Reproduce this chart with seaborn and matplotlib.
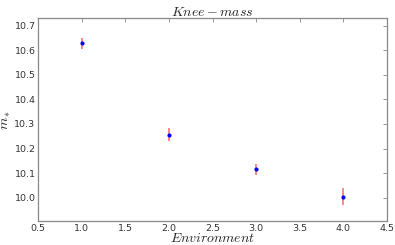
import matplotlib
matplotlib.use('Agg')
import matplotlib.pyplot as plt
import seaborn as sns
import pandas as pd

# dados
environment = [1, 2, 3, 4]
knee_mass = [10.629, 10.257, 10.115, 10.004]
knee_err = [0.023, 0.027, 0.024, 0.035]

df = pd.DataFrame({'env': environment, 'm': knee_mass, 'err': knee_err})

sns.set_style('white')
plt.rcParams['font.family'] = ['DejaVu Sans']
plt.rcParams['mathtext.fontset'] = 'cm'

fig, ax = plt.subplots(figsize=(3.95, 2.45), dpi=100)
fig.subplots_adjust(left=0.097, right=0.979, top=0.925, bottom=0.098)

# barras de erro
ax.errorbar(df['env'], df['m'], yerr=df['err'], fmt='none', ecolor='red',
            alpha=0.55, elinewidth=1.2, capsize=0)
# pontos
sns.scatterplot(data=df, x='env', y='m', ax=ax, color='blue', marker='o',
                s=9, edgecolor='blue', linewidth=0, zorder=3)

ax.set_xlim(0.5, 4.5)
ax.set_ylim(9.905, 10.73)
ax.set_xticks([0.5, 1.0, 1.5, 2.0, 2.5, 3.0, 3.5, 4.0, 4.5])
ax.set_yticks([10.0, 10.1, 10.2, 10.3, 10.4, 10.5, 10.6, 10.7])
ax.tick_params(labelsize=6.8, direction='in', length=3, width=0.6,
               colors='#888888', labelcolor='#333333', top=True, right=True,
               pad=2)

for s in ax.spines.values():
    s.set_color('#888888')
    s.set_linewidth(0.9)

ax.set_title('$Knee\u2212mass$', fontsize=10, pad=2)
ax.set_xlabel('$Environment$', fontsize=10, labelpad=-1)
ax.set_ylabel('$m_*$', fontsize=10)
ax.yaxis.set_label_coords(-0.072, 0.5)

fig.savefig('out.png', dpi=100)
